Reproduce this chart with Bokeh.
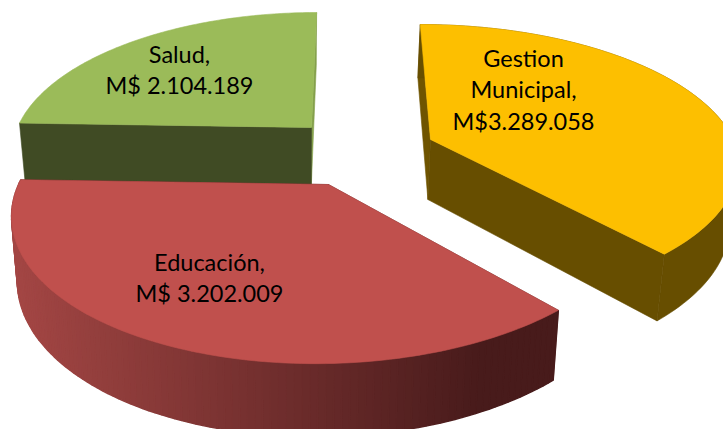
import numpy as np
from bokeh.plotting import figure
from bokeh.models import Range1d, ColumnDataSource
from bokeh.core.properties import value
from bokeh.embed import file_html
from bokeh.resources import INLINE

# ---- data ----
categories = ["Gestion Municipal", "Educación", "Salud"]
amounts = [3289058, 3202009, 2104189]
label_lines = [["Gestion", "Municipal,", "M$3.289.058"],
               ["Educación,", "M$ 3.202.009"],
               ["Salud,", "M$ 2.104.189"]]

# ---- styles ----
top_colors = ["#fdbf00", "#c0504d", "#9bbb59"]
cut_start_colors = ["#6f5400", "#5e2725", "#404b24"]
cut_end_colors = ["#674e00", "#4b1d1d", "#84a04b"]
wall_colors = ["#674e00", None, None]
wall_grad = ((163, 70, 68), (72, 27, 27))

# per-slice placement in pixels: apex x, apex y, x radius, y radius, back skew, front skew
geometry = [(430, 139, 303, 135, 12, 0),
            (328, 184, 310, 148, -9, -11),
            (311, 127, 294, 135, -6, 0)]
label_anchor = [(523, 57), (209, 261), (179, 53)]
PERSP = 0.174
VX = 300.0
LINE_H = 31.5


def project(theta, g):
    cx, cy, k, kb, sb, sf = g
    X, Y = np.sin(theta), -np.cos(theta)
    d = 1 - PERSP * Y
    return cx + (k * X + sb * np.minimum(Y, 0) + sf * np.maximum(Y, 0)) / d, cy + kb * Y / d


def base(x, y):
    x, y = np.asarray(x, float), np.asarray(y, float)
    return VX + (x - VX) * 0.98, y + 52 + 0.058 * y


p = figure(width=723, height=429, output_backend="svg", toolbar_location=None,
           x_range=Range1d(0, 723), y_range=Range1d(429, 0),
           x_axis_location=None, y_axis_location=None, min_border=0,
           outline_line_color=None, background_fill_color="white",
           border_fill_color="white")
p.grid.visible = False


def poly(xs, ys, color, lw=0.6):
    p.patch(x=list(xs), y=list(ys), fill_color=color, line_color=color, line_width=lw)


fracs = np.array(amounts, float) / sum(amounts)
edges = np.concatenate([[0], np.cumsum(fracs)]) * 2 * np.pi

for i in [2, 0, 1]:
    g = geometry[i]
    t = np.linspace(edges[i], edges[i + 1], 110)
    ax, ay = g[0], g[1]
    bax, bay = base(ax, ay)
    tx, ty = project(t, g)
    bx, by = base(tx, ty)
    if i == 2:
        poly([ax, tx[-1], bx[-1], bax], [ay, ty[-1], by[-1], bay], cut_end_colors[i])
        poly([ax, tx[0], bx[0], bax], [ay, ty[0], by[0], bay], cut_start_colors[i])
    else:
        poly([ax, tx[0], bx[0], bax], [ay, ty[0], by[0], bay], cut_start_colors[i])
        if wall_colors[i] is not None:
            poly(np.r_[tx, bx[::-1]], np.r_[ty, by[::-1]], wall_colors[i])
        else:
            for j in range(len(t) - 1):
                m = 0.5 * (tx[j] + tx[j + 1])
                f = np.clip((m - 15) / (480 - 15), 0, 1)
                c = tuple(int(round(a + (b - a) * f)) for a, b in zip(*wall_grad))
                poly([tx[j], tx[j + 1], bx[j + 1], bx[j]], [ty[j], ty[j + 1], by[j + 1], by[j]],
                     "#%02x%02x%02x" % c, lw=1.4)
        poly([ax, tx[-1], bx[-1], bax], [ay, ty[-1], by[-1], bay], cut_end_colors[i])
    poly(np.r_[ax, tx], np.r_[ay, ty], top_colors[i])

for lines, (lx, ly) in zip(label_lines, label_anchor):
    src = ColumnDataSource(dict(x=[lx] * len(lines),
                                y=[ly + n * LINE_H for n in range(len(lines))],
                                t=lines))
    p.text(x="x", y="y", text="t", source=src, text_align="center",
           text_baseline="middle", text_color="#000000",
           text_font=value("Lato"), text_font_size="23.5px")

open("out.html", "w").write(file_html(p, INLINE))
